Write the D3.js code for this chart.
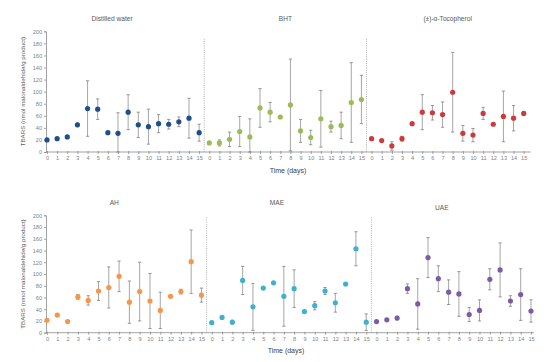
<!DOCTYPE html>
<html>
<head>
<meta charset="utf-8">
<script src="https://cdn.jsdelivr.net/npm/d3@7"></script>
<style>
  body { margin: 0; background: #fff; }
  text { font-family: "Liberation Sans", Arial, sans-serif; fill: #595959; }
  .axis path, .axis line { stroke: #8c8c8c; stroke-width: 0.8; }
  .axis text { font-size: 5.6px; fill: #7f7f7f; }
</style>
</head>
<body>
<script>
// days on the x axis (repeated for each treatment)
var days = d3.range(0, 16);
var yTicks = [0, 20, 40, 60, 80, 100, 120, 140, 160, 180, 200];

var topNames = ["Distilled water", "BHT", "(±)-α-Tocopherol"];
var bottomNames = ["AH", "MAE", "UAE"];

// mean TBARS values and error (+/-) per day
var waterVals = [20, 22, 25, 45, 72, 71, 32, 31, 66, 45, 42, 47, 46, 50, 56, 32];
var waterErr  = [0, 0, 0, 3, 46, 17, 0, 34, 29, 21, 29, 15, 8, 8, 33, 14];
var bhtVals   = [15, 15, 21, 34, 25, 73, 66, 58, 78, 35, 24, 55, 42, 44, 82, 87];
var bhtErr    = [2, 5, 12, 25, 30, 32, 16, 0, 76, 19, 12, 47, 9, 22, 66, 40];
var tocoVals  = [22, 19, 10, 22, 47, 66, 65, 62, 99, 31, 28, 64, 46, 59, 56, 64];
var tocoErr   = [0, 0, 7, 4, 0, 29, 12, 21, 66, 13, 11, 10, 0, 42, 21, 3];
var ahVals    = [21, 30, 19, 61, 55, 71, 77, 96, 52, 70, 54, 38, 62, 70, 121, 64];
var ahErr     = [2, 0, 0, 4, 8, 16, 35, 26, 36, 50, 47, 31, 0, 4, 54, 12];
var maeVals   = [17, 26, 18, 89, 44, 76, 85, 62, 75, 36, 46, 71, 51, 83, 143, 18];
var maeErr    = [0, 0, 3, 24, 40, 0, 0, 51, 32, 2, 7, 6, 16, 0, 29, 14];
var uaeVals   = [19, 22, 25, 75, 49, 128, 92, 69, 66, 31, 38, 91, 107, 54, 65, 37];
var uaeErr    = [0, 0, 3, 8, 43, 34, 22, 21, 38, 12, 18, 18, 46, 9, 44, 19];

var colors = {
  "Distilled water": "#1f4e8c", "BHT": "#9bbb59", "(±)-α-Tocopherol": "#cc3b3b",
  "AH": "#f79646", "MAE": "#3fb0cd", "UAE": "#7a5ca6"
};
var series = {
  "Distilled water": [waterVals, waterErr], "BHT": [bhtVals, bhtErr], "(±)-α-Tocopherol": [tocoVals, tocoErr],
  "AH": [ahVals, ahErr], "MAE": [maeVals, maeErr], "UAE": [uaeVals, uaeErr]
};

var svg = d3.select("body").append("svg").attr("width", 550).attr("height", 362);

function drawRow(names, box) {
  var keys = [];
  names.forEach(function(n, i) { days.forEach(function(d) { keys.push(i + "_" + d); }); });

  var x = d3.scalePoint().domain(keys).range([box.x0, box.x1]);
  var y = d3.scaleLinear().domain([0, 200]).range([box.y0, box.y1]);
  var g = svg.append("g");

  // y axis
  g.append("g").attr("class", "axis")
    .attr("transform", `translate(${box.x0 - 1},0)`)
    .call(d3.axisLeft(y).tickValues(yTicks).tickSize(2).tickPadding(2));

  // x axis
  var xa = g.append("g").attr("class", "axis")
    .attr("transform", `translate(0,${box.y0})`)
    .call(d3.axisBottom(x).tickSize(2).tickPadding(2).tickFormat(k => k.split("_")[1]));
  xa.select(".domain").remove();
  xa.selectAll(".tick line").attr("y1", -1);
  g.append("line")
    .attr("x1", box.x0 - 1).attr("x2", x(keys[keys.length - 1]) + box.tail)
    .attr("y1", box.y0).attr("y2", box.y0)
    .attr("stroke", "#8c8c8c").attr("stroke-width", 0.8);

  var step = x.step();
  names.forEach(function(name, i) {
    var vals = series[name][0], errs = series[name][1];
    var pts = days.map(function(d) { return { k: i + "_" + d, v: vals[d], e: errs[d] }; });

    // dotted separator before the next treatment
    if (i > 0) {
      var sx = x(i + "_0") - step / 2;
      g.append("line")
        .attr("x1", sx).attr("x2", sx)
        .attr("y1", box.y0).attr("y2", y(box.sepTop))
        .attr("stroke", "#9a9a9a").attr("stroke-width", 0.8)
        .attr("stroke-dasharray", "1,1.2");
    }

    // panel title
    g.append("text")
      .attr("x", (x(i + "_0") + x(i + "_15")) / 2 + box.titleDx[i])
      .attr("y", box.titleY[i])
      .attr("text-anchor", "middle")
      .style("font-size", "6.6px")
      .text(name);

    // error bars
    var eb = g.selectAll(".eb" + i).data(pts.filter(p => p.e > 0)).enter().append("g");
    eb.append("line")
      .attr("x1", p => x(p.k)).attr("x2", p => x(p.k))
      .attr("y1", p => y(p.v + p.e)).attr("y2", p => y(Math.max(0, p.v - p.e)))
      .attr("stroke", "#a6a6a6").attr("stroke-width", 1);
    [1, -1].forEach(function(s) {
      eb.append("line")
        .attr("x1", p => x(p.k) - 1.6).attr("x2", p => x(p.k) + 1.6)
        .attr("y1", p => y(Math.max(0, p.v + s * p.e))).attr("y2", p => y(Math.max(0, p.v + s * p.e)))
        .attr("stroke", "#7f7f7f").attr("stroke-width", 0.8);
    });

    // points
    g.selectAll(".pt" + i).data(pts).enter().append("circle")
      .attr("cx", p => x(p.k)).attr("cy", p => y(p.v))
      .attr("r", 2.6)
      .attr("fill", colors[name]);
  });

  // axis titles
  g.append("text")
    .attr("transform", `translate(25,${(box.y0 + box.y1) / 2}) rotate(-90)`)
    .attr("text-anchor", "middle")
    .style("font-size", "6.2px")
    .text("TBARS (nmol malonaldehide/g product)");
  g.append("text")
    .attr("x", box.xTitleX).attr("y", box.xTitleY)
    .attr("text-anchor", "middle")
    .style("font-size", "7px").style("fill", "#404040")
    .text("Time (days)");
}

drawRow(topNames, {
  x0: 47, x1: 523.7, y0: 152, y1: 31.3, tail: 7, sepTop: 188,
  titleDx: [-11, 0, 0], titleY: [21, 21, 21], xTitleX: 288, xTitleY: 173
});
drawRow(bottomNames, {
  x0: 47, x1: 531, y0: 332.7, y1: 215.3, tail: 3, sepTop: 198,
  titleDx: [-10, -12, -12], titleY: [205, 205, 210], xTitleX: 286, xTitleY: 353
});
</script>
</body>
</html>
